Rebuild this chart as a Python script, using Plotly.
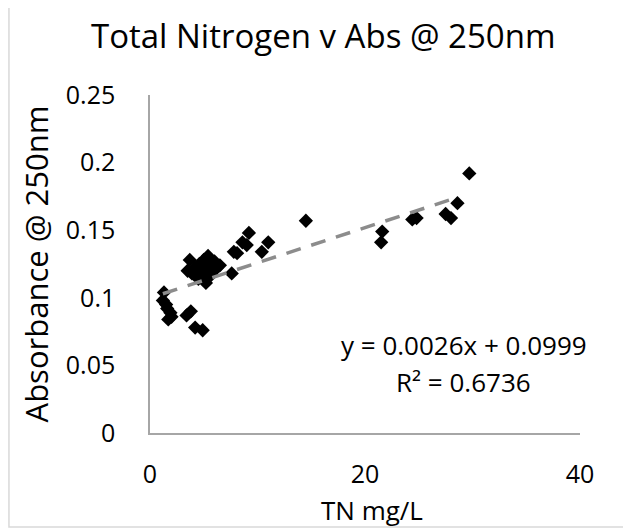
import plotly.graph_objects as go

# TN (mg/L) vs absorbance at 250 nm
tn_mg_l = [
    1.3, 1.2, 1.5, 1.6, 1.9, 1.7, 2.0, 3.4, 3.8, 4.2, 4.9,
    3.7, 3.5, 3.9, 4.2, 4.5, 4.6, 4.8, 5.0, 5.1, 5.3, 5.4, 5.6, 5.8,
    6.0, 6.2, 6.5, 5.2, 4.4, 5.7,
    7.6, 7.8, 8.1, 8.6, 9.0, 9.2, 10.4, 11.0, 14.5,
    21.5, 21.6, 24.4, 24.8, 27.5, 28.0, 28.6, 29.7,
]
absorbance = [
    0.104, 0.098, 0.095, 0.092, 0.089, 0.084, 0.086, 0.087, 0.090, 0.078, 0.076,
    0.128, 0.120, 0.118, 0.122, 0.114, 0.125, 0.119, 0.128, 0.122, 0.116, 0.131, 0.125, 0.120,
    0.127, 0.122, 0.124, 0.111, 0.121, 0.117,
    0.118, 0.134, 0.133, 0.141, 0.139, 0.148, 0.134, 0.141, 0.157,
    0.141, 0.149, 0.158, 0.159, 0.162, 0.159, 0.170, 0.192,
]

# linear trendline shown on the chart
slope = 0.0026
intercept = 0.0999
r_squared = 0.6736

FONT = 'Open Sans'
TEXT_SIZE = 26

fig = go.Figure()

fig.add_trace(go.Scatter(
    x=tn_mg_l,
    y=absorbance,
    mode='markers',
    marker=dict(symbol='diamond', size=11, color='black'),
    showlegend=False,
))

# trendline spans the data range, like Excel does
x0 = min(tn_mg_l)
x1 = max(tn_mg_l) - 1.0
fig.add_trace(go.Scatter(
    x=[x0, x1],
    y=[slope * x0 + intercept, slope * x1 + intercept],
    mode='lines',
    line=dict(color='#8c8c8c', width=3.5, dash='15px,11px'),
    showlegend=False,
))

# the page body adds an 8px offset, so the figure is 8px smaller
fig.update_layout(
    width=623,
    height=521,
    margin=dict(l=142, r=51, t=87, b=96),
    paper_bgcolor='white',
    plot_bgcolor='white',
    font=dict(family=FONT, size=TEXT_SIZE, color='black'),
    title=dict(
        text='Total Nitrogen v Abs @ 250nm',
        font=dict(size=33),
        x=0.506, xanchor='center',
        y=0.945, yanchor='middle',
    ),
    xaxis=dict(
        range=[0, 40],
        dtick=20,
        showgrid=False,
        zeroline=False,
        showline=True,
        linecolor='#a6a6a6',
        linewidth=1.5,
        ticks='',
        tickfont=dict(size=25),
        ticklabelstandoff=18,
    ),
    yaxis=dict(
        range=[0, 0.25],
        dtick=0.05,
        showgrid=False,
        zeroline=False,
        showline=True,
        linecolor='#a6a6a6',
        linewidth=1.5,
        ticks='',
        tickfont=dict(size=25),
        ticklabelstandoff=28,
        title=dict(text='Absorbance @ 250nm', standoff=8),
    ),
    shapes=[dict(
        type='rect', xref='paper', yref='paper',
        x0=-0.328, x1=1.2, y0=-0.278, y1=1.266,
        line=dict(color='#d9d9d9', width=1.5),
        fillcolor='rgba(0,0,0,0)',
        layer='below',
    )],
    annotations=[
        dict(
            text='TN mg/L',
            xref='paper', yref='paper', x=0.516, y=-0.228,
            xanchor='center', yanchor='middle', showarrow=False,
            font=dict(size=TEXT_SIZE),
        ),
        dict(
            text=f'y = {slope}x + {intercept}',
            xref='paper', yref='paper', x=0.73, y=0.26,
            xanchor='center', yanchor='middle', showarrow=False,
            font=dict(size=TEXT_SIZE),
        ),
        dict(
            text=f'R² = {r_squared}',
            xref='paper', yref='paper', x=0.73, y=0.15,
            xanchor='center', yanchor='middle', showarrow=False,
            font=dict(size=TEXT_SIZE),
        ),
    ],
)

fig.write_html('out.html')
